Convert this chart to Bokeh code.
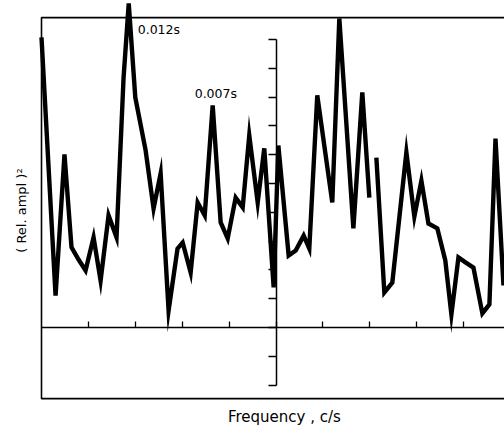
from math import pi
from bokeh.plotting import figure
from bokeh.models import LinearAxis, FixedTicker, Range1d, Label
from bokeh.embed import file_html
from bokeh.resources import INLINE

# Spectrum trace (frequency in tick units, relative amplitude squared in tick units)
freq_a = [0.00, 0.30, 0.49, 0.64, 0.79, 0.94, 1.11, 1.26, 1.43, 1.60, 1.75, 1.86,
          2.00, 2.22, 2.39, 2.54, 2.71, 2.90, 3.01, 3.18, 3.33, 3.48, 3.65, 3.82,
          3.97, 4.14, 4.29, 4.43, 4.61, 4.75, 4.95, 5.05, 5.27, 5.42, 5.59, 5.71,
          5.88, 6.20, 6.35, 6.65, 6.84, 6.99]
amp_a = [10.07, 1.11, 6.01, 2.78, 2.36, 1.98, 3.13, 1.63, 3.89, 3.13, 8.68, 11.25,
         7.99, 6.15, 4.13, 5.35, 0.59, 2.74, 2.95, 1.91, 4.34, 3.89, 7.71, 3.65,
         3.09, 4.51, 4.17, 6.67, 4.34, 6.22, 1.39, 6.32, 2.50, 2.67, 3.19, 2.74,
         8.06, 4.34, 10.73, 3.44, 8.16, 4.51]
freq_b = [7.14, 7.31, 7.48, 7.78, 7.95, 8.10, 8.25, 8.44, 8.61, 8.74, 8.89, 9.04,
          9.21, 9.40, 9.55, 9.68, 9.85]
amp_b = [5.90, 1.22, 1.56, 6.08, 3.85, 5.10, 3.61, 3.44, 2.33, 0.45, 2.43, 2.26,
         2.08, 0.49, 0.80, 6.56, 1.46]

x_ticks = [1, 2, 3, 4, 5, 6, 7, 8, 9]
y_ticks = [-2, -1, 0, 1, 2, 3, 4, 5, 6, 7, 8, 9, 10]
peak_texts = ["0.012s", "0.007s"]
x_title = "Frequency , c/s"
y_title = "( Rel. ampl )\u00b2"

box_left, box_top, box_bottom = 0.0, 10.76, -2.47
axis_x = 5

W, H = 504, 425
p = figure(width=W, height=H, output_backend="svg", toolbar_location=None,
           x_axis_type=None, y_axis_type=None,
           x_range=Range1d(-0.8742, 9.872), y_range=Range1d(-3.403, 11.354),
           min_border=0, min_border_left=0, min_border_right=0,
           min_border_top=0, min_border_bottom=0)
p.outline_line_color = None
p.background_fill_color = "white"
p.border_fill_color = "white"

FONT = "DejaVu Sans"

# frame box (left, top, bottom)
xr = p.x_range.end + 1
p.line(x=[xr, box_left, box_left, xr], y=[box_top, box_top, box_bottom, box_bottom],
       line_color="black", line_width=1.6)

# zero line with upward ticks
xax = LinearAxis(fixed_location=0, ticker=FixedTicker(ticks=x_ticks),
                 major_tick_in=6, major_tick_out=0, minor_tick_in=0, minor_tick_out=0,
                 axis_line_width=1.5, major_tick_line_width=1.3,
                 major_label_text_color=None, major_label_text_font_size="1px",
                 bounds=(box_left, xr))
p.add_layout(xax, "below")

# central ordinate with ticks to the left
yax = LinearAxis(fixed_location=axis_x, ticker=FixedTicker(ticks=y_ticks),
                 major_tick_in=0, major_tick_out=8, minor_tick_in=0, minor_tick_out=0,
                 axis_line_width=1.5, major_tick_line_width=1.3,
                 major_label_text_color=None, major_label_text_font_size="1px",
                 bounds=(min(y_ticks), max(y_ticks)))
p.add_layout(yax, "left")

p.line(freq_a, amp_a, line_color="black", line_width=4.4, line_join="miter")
p.line(freq_b, amp_b, line_color="black", line_width=4.4, line_join="miter")

i1 = amp_a.index(max(amp_a))
i2 = amp_a.index(max(amp_a[15:30]))
p.add_layout(Label(x=freq_a[i1], y=amp_a[i1], x_offset=9, y_offset=-26, text=peak_texts[0],
                   text_font=FONT, text_font_size="12.5px", text_baseline="alphabetic",
                   text_color="black"))
p.add_layout(Label(x=freq_a[i2], y=amp_a[i2], x_offset=-18, y_offset=12, text=peak_texts[1],
                   text_font=FONT, text_font_size="12.5px", text_baseline="alphabetic",
                   text_color="black"))

p.add_layout(Label(x=5.18, y=-3.10, text=x_title, text_font=FONT, text_font_size="15px",
                   text_align="center", text_baseline="alphabetic", text_color="black"))
p.add_layout(Label(x=-0.43, y=4.06, text=y_title, text_font=FONT, text_font_size="13px",
                   text_align="center", text_baseline="middle", angle=pi / 2,
                   text_color="black"))

open("out.html", "w").write(file_html(p, INLINE))
